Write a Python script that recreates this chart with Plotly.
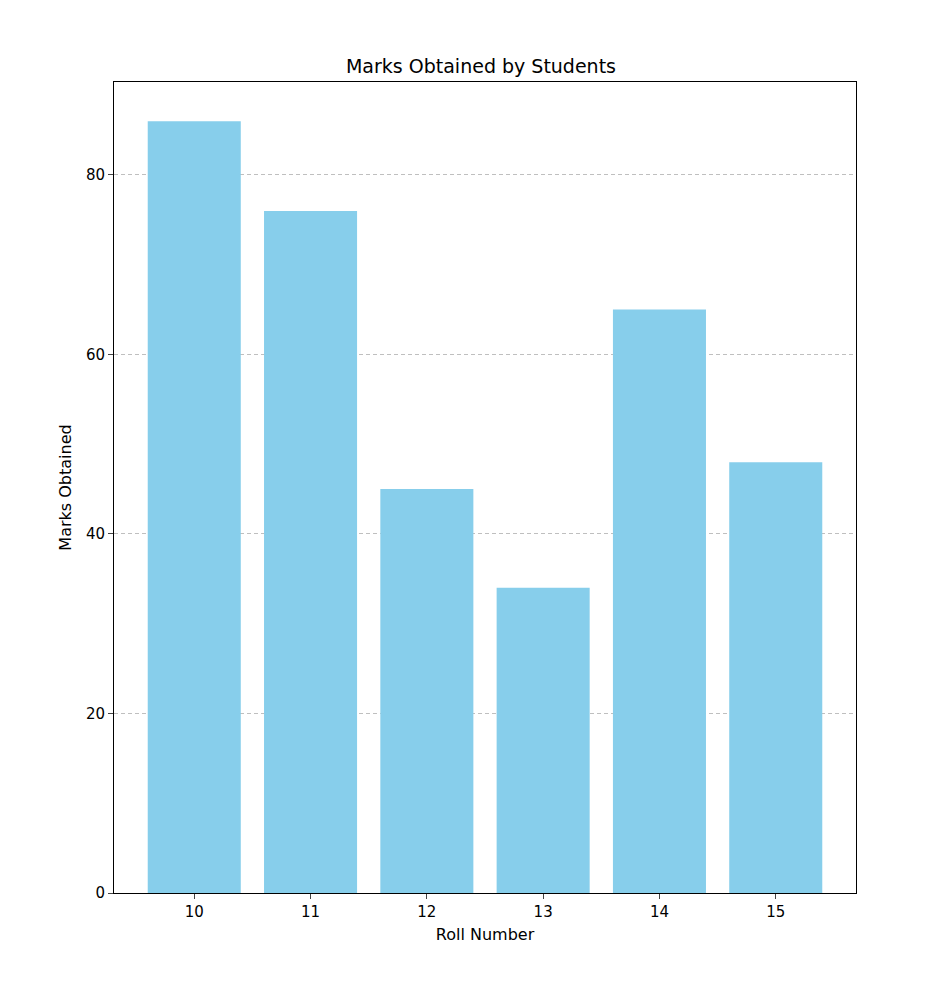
import plotly.graph_objects as go

roll_numbers = [10, 11, 12, 13, 14, 15]
marks = [86, 76, 45, 34, 65, 48]

fig = go.Figure(go.Bar(x=roll_numbers, y=marks, width=0.8, marker=dict(color='skyblue', line=dict(width=0))))

fig.update_layout(
    width=946, height=992,
    margin=dict(l=106, r=98, t=74, b=107),
    plot_bgcolor='white', paper_bgcolor='white',
    font=dict(family='DejaVu Sans', size=15, color='black'),
    title=dict(text='Marks Obtained by Students', x=0.5, xanchor='center', y=1 - 58 / 992, yanchor='middle',
               font=dict(size=19)),
    showlegend=False,
)
fig.update_xaxes(
    range=[9.31, 15.69], tickvals=roll_numbers, ticks='outside', ticklen=5,
    showgrid=False, showline=True, linecolor='black', mirror=True,
    title=dict(text='Roll Number', standoff=8, font=dict(size=16)),
)
fig.update_yaxes(
    range=[0, 90.36], tickvals=[0, 20, 40, 60, 80], ticks='outside', ticklen=5,
    showgrid=True, gridcolor='rgba(128,128,128,0.5)', griddash='4px,3px', zeroline=False,
    showline=True, linecolor='black', mirror=True,
    title=dict(text='Marks Obtained', standoff=10, font=dict(size=16)),
)

fig.write_html("out.html")
